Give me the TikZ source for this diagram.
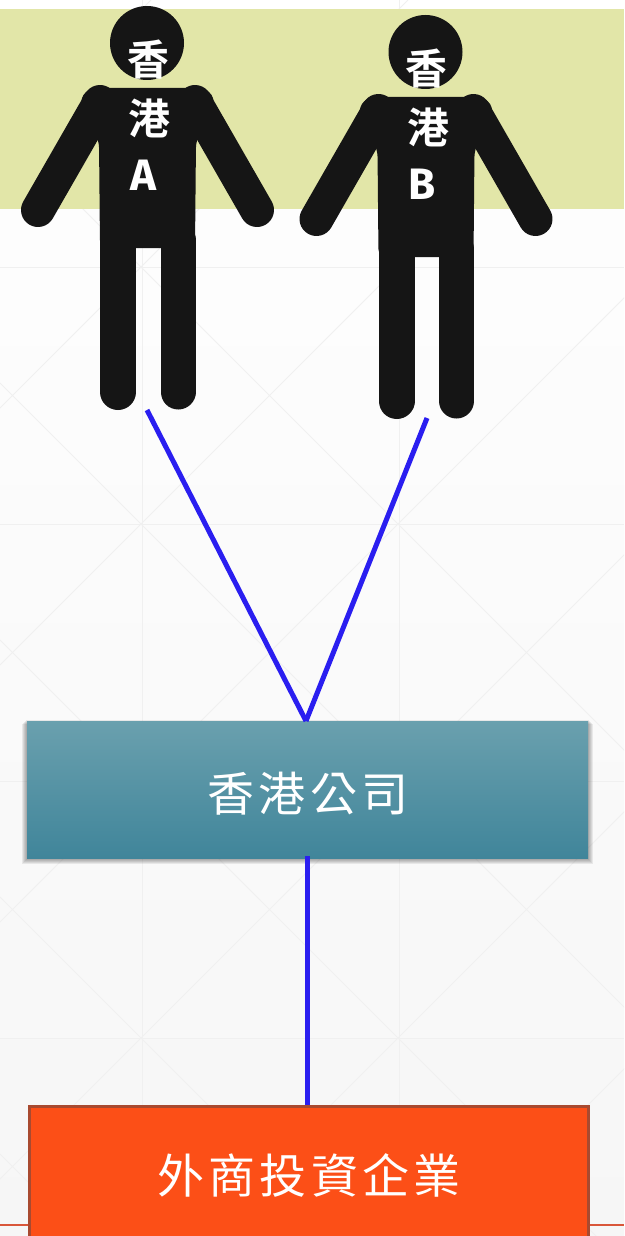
\documentclass[tikz,border=0pt]{standalone}
\usepackage{fontspec}
\setmainfont{Noto Sans CJK TC}
\newfontfamily\boxfont[LetterSpace=9]{Noto Sans CJK TC}
\newfontfamily\figfont{Noto Sans CJK TC Bold}
\newfontfamily\figlatin{Fira Sans Bold}
\definecolor{linkblue}{HTML}{2A1EF0}
\definecolor{bandcol}{HTML}{E2E6A8}
\definecolor{figcol}{HTML}{151515}
\definecolor{gridcol}{HTML}{F0F0F0}
\definecolor{boxtop}{HTML}{6AA0AE}
\definecolor{boxbot}{HTML}{40859A}
\definecolor{orangefill}{HTML}{FC4F17}
\definecolor{orangeedge}{HTML}{A84A30}
\definecolor{redrule}{HTML}{D9573A}
\tikzset{
  link/.style={draw=linkblue,line width=5pt},
  figlabel/.style={text=white,inner sep=0pt,font=\figfont\fontsize{42}{42}\selectfont},
  figletter/.style={text=white,inner sep=0pt,font=\figlatin\fontsize{44}{44}\selectfont},
  personfig/.pic={
    \fill[figcol] (147,43) circle (37);
    \fill[figcol,rounded corners=8pt] (88,88) -- (207,88) -- (216,102) -- (196,140) -- (195,248) -- (100,248) -- (99,140) -- (79,102) -- cycle;
    \draw[figcol,line width=34pt,line cap=round] (100,102) -- (38,210);
    \draw[figcol,line width=34pt,line cap=round] (195,102) -- (257,210);
    \draw[figcol,line width=36pt,line cap=round] (118,240) -- (118,392);
    \draw[figcol,line width=35pt,line cap=round] (178,240) -- (178,392);
  }
}
\begin{document}
\begin{tikzpicture}[x=1pt,y=-1pt]
\useasboundingbox (0,0) rectangle (624,1236);
\shade[top color=white,bottom color=white!96.5!black] (0,0) rectangle (624,1236);
\begin{scope}
\clip (0,0) rectangle (624,1236);
\foreach \yy in {267,524,781,1038} \draw[gridcol,line width=1pt] (0,\yy) -- (624,\yy);
\foreach \xx in {142,399} \draw[gridcol,line width=1pt] (\xx,0) -- (\xx,1236);
\foreach \k in {-4,...,3} {
  \pgfmathsetmacro\c{1179+257*\k}
  \pgfmathsetmacro\d{-897+257*\k}
  \draw[gridcol,line width=1pt] (0,\c) -- (\c,0);
  \draw[gridcol,line width=1pt] (0,-\d) -- (1236,1236-\d);
}
\end{scope}
\fill[bandcol] (0,9) rectangle (624,209);
\draw[redrule,line width=2pt] (0,1225) -- (624,1225);

\pic (pa) at (0,0) {personfig};
\pic (pb) at (278.5,9) {personfig};
\node[figlabel] (a1) at (148,60) {香};
\node[figlabel] (a2) at (149,118) {港};
\node[figletter] (a3) at (143,175) {A};
\node[figlabel] (b1) at (426,69) {香};
\node[figlabel] (b2) at (428,127) {港};
\node[figletter] (b3) at (422,184) {B};
\coordinate (footA) at (147,410);
\coordinate (footB) at (427,418);

% shadow
\foreach \g in {5,4,3,2,1}
  \fill[black,opacity=.07] (27-\g,721+\g-2) rectangle (588+\g,858+\g+1);
\node[minimum width=561pt,minimum height=137pt,inner sep=0pt,anchor=north west,top color=boxtop,bottom color=boxbot,text=white] (hk) at (27,721) {};
\node[text=white,inner sep=0pt,font=\boxfont\fontsize{47}{47}\selectfont] (hklabel) at (308,794) {香港公司};

\node[draw=orangeedge,line width=3pt,fill=orangefill,minimum width=559pt,minimum height=140pt,inner sep=0pt,anchor=north west] (fie) at (28,1105) {};
\node[text=white,inner sep=0pt,font=\boxfont\fontsize{47}{47}\selectfont] (fielabel) at (309,1175) {外商投資企業};

\coordinate (hktop) at (306,721);
\draw[link] (footA) -- (hktop);
\draw[link] (footB) -- (hktop);
\draw[link] (hk.south -| hktop) ++(1.5,-2) coordinate (hkb) -- (hkb |- fie.north);
\end{tikzpicture}
\end{document}
